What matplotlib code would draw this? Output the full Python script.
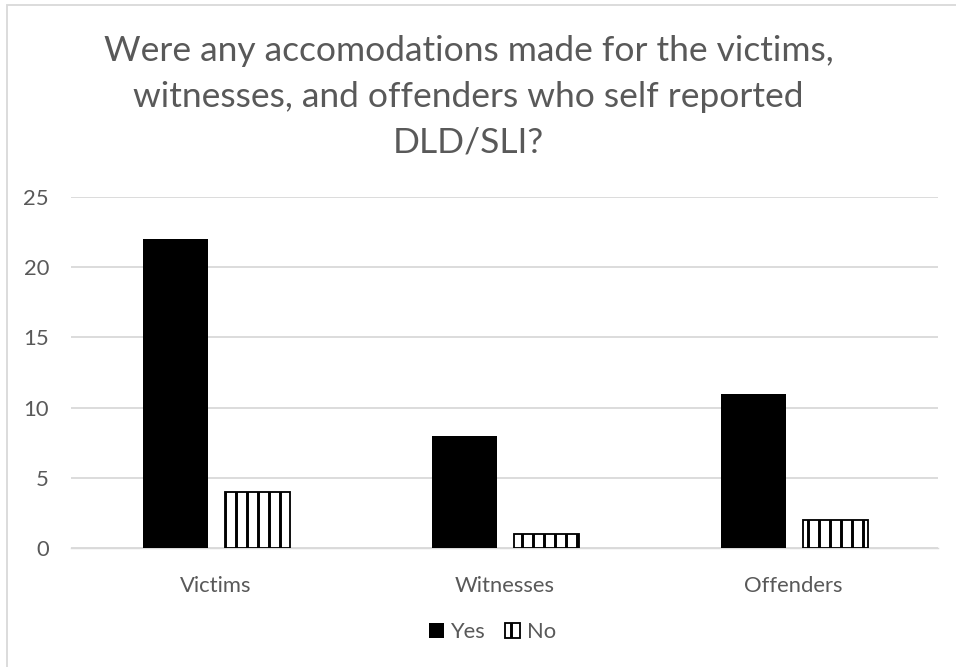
import numpy as np
import matplotlib.pyplot as plt
from matplotlib.patches import Rectangle

# survey answers per group
groups = ["Victims", "Witnesses", "Offenders"]
yes = [22, 8, 11]
no = [4, 1, 2]
yticks = [0, 5, 10, 15, 20, 25]

grey = "#595959"
plt.rcParams['font.family'] = ['Lato', 'DejaVu Sans']
plt.rcParams['hatch.linewidth'] = 1.6
plt.rcParams['hatch.color'] = 'black'

DPI = 132
fig = plt.figure(figsize=(956 / DPI, 667 / DPI), dpi=DPI)
ax = fig.add_axes([71 / 956, 1 - 548 / 667, 867 / 956, 351 / 667])

x = np.arange(len(groups))
w = 0.225
ax.bar(x - 0.14, yes, w, color="black", label="Yes", zorder=3)
ax.bar(x + 0.144, no, w, color="white", edgecolor="black", hatch="||",
       linewidth=1.0, label="No", zorder=3)

ax.set_xlim(-0.5, 2.5)
ax.set_ylim(0, 25)
ax.set_yticks(yticks)
ax.set_xticks(x)
ax.set_xticklabels(groups)
ax.grid(axis="y", color="#d9d9d9", linewidth=1.0, zorder=0)
for s in ["top", "right", "left"]:
    ax.spines[s].set_visible(False)
ax.spines["bottom"].set_color("#d9d9d9")
ax.tick_params(length=0, colors=grey, labelsize=12)
ax.tick_params(axis="y", pad=12)
ax.tick_params(axis="x", pad=15)

fig.text(0.49, 1 - 97 / 667,
         "Were any accomodations made for the victims,\n"
         "witnesses, and offenders who self reported\nDLD/SLI?",
         ha="center", va="center", fontsize=19.3, color=grey, linespacing=1.52)

fig.legend(loc="center", bbox_to_anchor=(0.515, 1 - 632 / 667), ncol=2,
           frameon=False, fontsize=12, labelcolor=grey, handlelength=0.7,
           handleheight=0.7, handletextpad=0.3, columnspacing=0.9)

# chart border
fig.patches.append(Rectangle((7 / 956, -0.05), 1.0, 1 - 5 / 667 + 0.05,
                             transform=fig.transFigure, fill=False,
                             edgecolor="#d9d9d9", linewidth=1.0))

fig.savefig("out.png", dpi=DPI)
